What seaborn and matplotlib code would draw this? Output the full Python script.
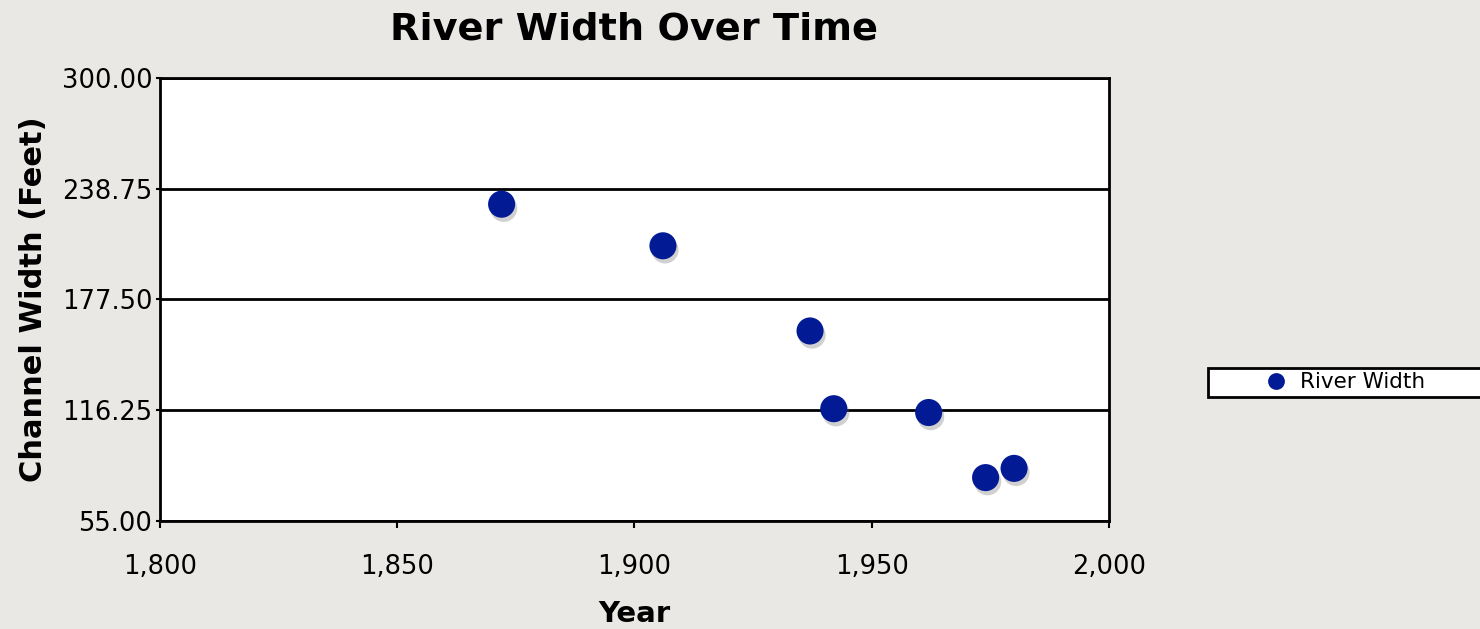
import matplotlib
matplotlib.use("Agg")
import matplotlib.pyplot as plt
import matplotlib.patheffects as pe
import matplotlib.ticker as mticker
from matplotlib.patches import Rectangle
import seaborn as sns
import pandas as pd

# Data
years = [1872, 1906, 1937, 1942, 1962, 1974, 1980]
widths = [230.2, 207.2, 160.1, 117.1, 115.0, 79.0, 84.1]
series_name = "River Width"
y_ticks = [55.00, 116.25, 177.50, 238.75, 300.00]
x_ticks = [1800, 1850, 1900, 1950, 2000]

df = pd.DataFrame({"Year": years, "Width": widths, "Series": series_name})

sns.set_theme(style="white")
plt.rcParams["font.family"] = ["DejaVu Sans"]
plt.rcParams["text.color"] = "black"
plt.rcParams["axes.labelcolor"] = "black"
plt.rcParams["xtick.color"] = "black"
plt.rcParams["ytick.color"] = "black"

bg = "#e9e8e5"
fig = plt.figure(figsize=(14.8, 6.29), dpi=100, facecolor=bg)
ax = fig.add_axes([0.1081, 0.1717, 0.6412, 0.7043])
ax.set_facecolor("white")

sns.scatterplot(data=df, x="Year", y="Width", hue="Series",
                palette=["#021a94"], s=380, edgecolor="none", ax=ax,
                legend=True, zorder=5)
for coll in ax.collections:
    coll.set_path_effects([pe.SimplePatchShadow(offset=(1.5, -3), shadow_rgbFace="#666666", alpha=0.3),
                           pe.Normal()])

ax.set_xlim(1800, 2000)
ax.set_ylim(55, 300)
ax.set_xticks(x_ticks)
ax.set_yticks(y_ticks)
ax.xaxis.set_major_formatter(mticker.FuncFormatter(lambda v, p: f"{int(v):,}"))
ax.yaxis.set_major_formatter(mticker.FuncFormatter(lambda v, p: f"{v:.2f}"))
ax.tick_params(axis="x", direction="out", length=5, width=1.5, colors="black",
               labelsize=18.5, pad=19, bottom=True)
ax.tick_params(axis="y", direction="out", length=3, width=1.5, colors="black",
               labelsize=18.5, pad=2.5, left=True)

ax.grid(axis="y", color="black", linewidth=2.0)
ax.grid(axis="x", visible=False)
for sp in ax.spines.values():
    sp.set_visible(True)
    sp.set_color("black")
    sp.set_linewidth(2.0)

ax.set_xlabel("Year", fontsize=21, fontweight="heavy", labelpad=14, color="black")
ax.set_ylabel("Channel Width (Feet)", fontsize=22, fontweight="heavy", labelpad=10, color="black")
ax.set_title("River Width Over Time", fontsize=27.5, fontweight="heavy", pad=28, color="black")

# Legend
handles, labels = ax.get_legend_handles_labels()
ax.get_legend().remove()
frame = Rectangle((1208 / 1480, 1 - 397 / 629), 300 / 1480, 29 / 629,
                  transform=fig.transFigure, facecolor="white", edgecolor="black",
                  linewidth=2.0, clip_on=False, zorder=1)
fig.patches.append(frame)
leg = fig.legend(handles, labels, loc="center left",
                 bbox_to_anchor=(1252 / 1480, 1 - 382.5 / 629),
                 frameon=False, fontsize=15.5, handletextpad=0.55,
                 handlelength=1.2, borderpad=0, markerscale=0.62)

fig.savefig("out.png", dpi=100, facecolor=bg)
